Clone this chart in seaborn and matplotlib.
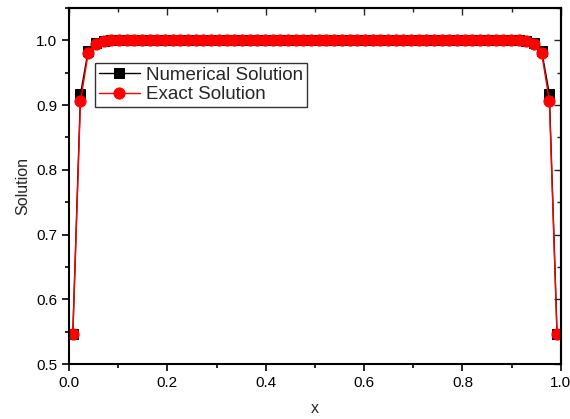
import matplotlib
matplotlib.use("Agg")
import matplotlib.pyplot as plt
import seaborn as sns
import pandas as pd
from matplotlib.ticker import MultipleLocator

# Grid points (cell centres)
x_vals = [0.0078, 0.0234, 0.0391, 0.0547, 0.0703, 0.0859, 0.1016, 0.1172,
          0.1328, 0.1484, 0.1641, 0.1797, 0.1953, 0.2109, 0.2266, 0.2422,
          0.2578, 0.2734, 0.2891, 0.3047, 0.3203, 0.3359, 0.3516, 0.3672,
          0.3828, 0.3984, 0.4141, 0.4297, 0.4453, 0.4609, 0.4766, 0.4922,
          0.5078, 0.5234, 0.5391, 0.5547, 0.5703, 0.5859, 0.6016, 0.6172,
          0.6328, 0.6484, 0.6641, 0.6797, 0.6953, 0.7109, 0.7266, 0.7422,
          0.7578, 0.7734, 0.7891, 0.8047, 0.8203, 0.8359, 0.8516, 0.8672,
          0.8828, 0.8984, 0.9141, 0.9297, 0.9453, 0.9609, 0.9766, 0.9922]

numerical = [0.547, 0.917, 0.984, 0.996, 0.9995, 1.0, 1.0, 1.0,
             1.0, 1.0, 1.0, 1.0, 1.0, 1.0, 1.0, 1.0,
             1.0, 1.0, 1.0, 1.0, 1.0, 1.0, 1.0, 1.0,
             1.0, 1.0, 1.0, 1.0, 1.0, 1.0, 1.0, 1.0,
             1.0, 1.0, 1.0, 1.0, 1.0, 1.0, 1.0, 1.0,
             1.0, 1.0, 1.0, 1.0, 1.0, 1.0, 1.0, 1.0,
             1.0, 1.0, 1.0, 1.0, 1.0, 1.0, 1.0, 1.0,
             1.0, 1.0, 1.0, 0.9995, 0.996, 0.984, 0.917, 0.547]

exact = [0.546, 0.906, 0.980, 0.995, 0.999, 1.0, 1.0, 1.0,
         1.0, 1.0, 1.0, 1.0, 1.0, 1.0, 1.0, 1.0,
         1.0, 1.0, 1.0, 1.0, 1.0, 1.0, 1.0, 1.0,
         1.0, 1.0, 1.0, 1.0, 1.0, 1.0, 1.0, 1.0,
         1.0, 1.0, 1.0, 1.0, 1.0, 1.0, 1.0, 1.0,
         1.0, 1.0, 1.0, 1.0, 1.0, 1.0, 1.0, 1.0,
         1.0, 1.0, 1.0, 1.0, 1.0, 1.0, 1.0, 1.0,
         1.0, 1.0, 1.0, 0.999, 0.995, 0.980, 0.906, 0.546]

series_names = ["Numerical Solution", "Exact Solution"]

sns.set_style("ticks")
plt.rcParams["font.family"] = ["Liberation Sans", "DejaVu Sans"]

df_num = pd.DataFrame({"x": x_vals, "y": numerical})
df_ex = pd.DataFrame({"x": x_vals, "y": exact})

fig = plt.figure(figsize=(5.70, 4.19), dpi=100)
ax = fig.add_axes([0.121, 0.131, 0.863, 0.850])

sns.lineplot(data=df_num, x="x", y="y", ax=ax, color="black", marker="s",
             markersize=7, markeredgecolor="black", linewidth=1.0,
             label=series_names[0], sort=False)
sns.lineplot(data=df_ex, x="x", y="y", ax=ax, color="#ff0000", marker="o",
             markersize=8, markeredgecolor="#ff0000", linewidth=1.0,
             label=series_names[1], sort=False)

ax.set_xlim(0.0, 1.0)
ax.set_ylim(0.5, 1.05)
ax.xaxis.set_major_locator(MultipleLocator(0.2))
ax.xaxis.set_minor_locator(MultipleLocator(0.1))
ax.yaxis.set_major_locator(MultipleLocator(0.1))
ax.yaxis.set_minor_locator(MultipleLocator(0.05))
ax.xaxis.set_major_formatter(matplotlib.ticker.FormatStrFormatter("%.1f"))
ax.yaxis.set_major_formatter(matplotlib.ticker.FormatStrFormatter("%.1f"))

ax.tick_params(which="both", direction="out", top=False, right=False,
               labelsize=11, width=1.2, colors="black")
ax.tick_params(which="major", length=5)
ax.tick_params(which="minor", length=3)

# mirrored inward ticks on top/right
axt = ax.secondary_xaxis("top")
axt.xaxis.set_major_locator(MultipleLocator(0.2))
axt.xaxis.set_minor_locator(MultipleLocator(0.1))
axt.tick_params(which="both", direction="in", labeltop=False, width=1.0)
axt.tick_params(which="major", length=5)
axt.tick_params(which="minor", length=3)
axr = ax.secondary_yaxis("right")
axr.yaxis.set_major_locator(MultipleLocator(0.1))
axr.yaxis.set_minor_locator(MultipleLocator(0.05))
axr.tick_params(which="both", direction="in", labelright=False, width=1.0)
axr.tick_params(which="major", length=5)
axr.tick_params(which="minor", length=3)

for s in ax.spines.values():
    s.set_linewidth(1.5)
    s.set_color("black")
for a in (axt, axr):
    for s in a.spines.values():
        s.set_linewidth(1.5)

ax.set_xlabel("x", fontsize=11.5, labelpad=8)
ax.set_ylabel("Solution", fontsize=11.5, labelpad=4)

leg = ax.legend(loc="upper left", bbox_to_anchor=(0.053, 0.845), fontsize=13.5,
                frameon=True, fancybox=False, edgecolor="black",
                handlelength=2.2, borderpad=0.2, labelspacing=0.12,
                handletextpad=0.3, borderaxespad=0.0)
leg.get_frame().set_linewidth(1.0)

fig.savefig("out.png", dpi=100)
